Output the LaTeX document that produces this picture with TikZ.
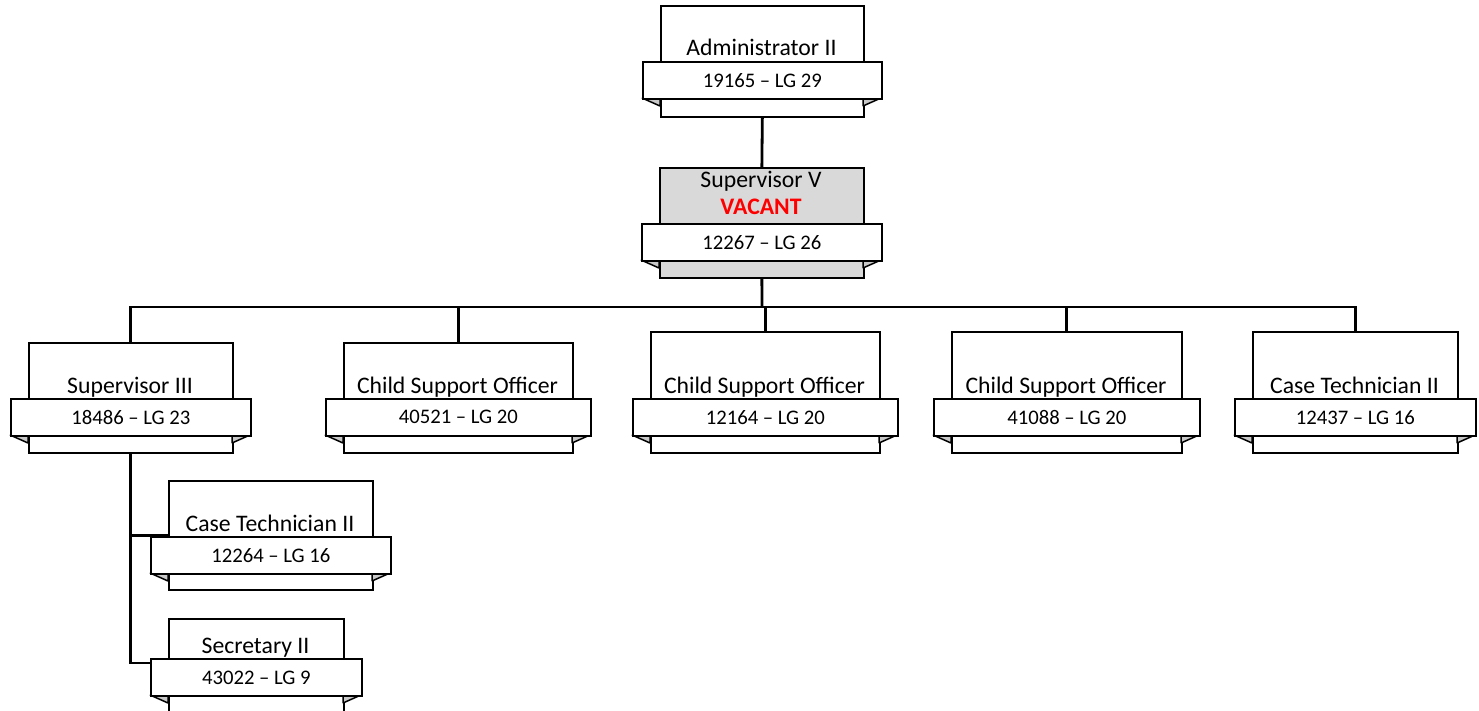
\documentclass[tikz,border=0pt]{standalone}
\usepackage{fontspec}
\setmainfont{Carlito}
\usetikzlibrary{calc}
\pgfdeclarelayer{bg}
\pgfsetlayers{bg,main}
\definecolor{vacantgray}{HTML}{D9D9D9}
\definecolor{foldgray}{HTML}{C8C8C8}
\tikzset{
  mainbox/.style={draw, line width=1.7pt, inner sep=0pt, anchor=north west},
  banner/.style={draw, line width=1.7pt, fill=white, inner sep=0pt, anchor=north west,
    minimum height=37pt, font=\fontsize{20.7}{22}\selectfont},
  fold/.style={draw, line width=1.5pt, fill=foldgray, line join=bevel},
  title/.style={anchor=base, inner sep=0pt, font=\fontsize{23.7}{26}\selectfont},
  link/.style={draw, line width=2.8pt},
}
% #1 name, #2 left, #3 right, #4 top, #5 bottom, #6 banner top, #7 fill, #8 title, #9 number
\newcommand\orgbox[9]{%
  \node[mainbox, fill=#7, minimum width={#3pt-#2pt}, minimum height={#5pt-#4pt}] (#1) at (#2,#4) {};
  \node[title] (#1t) at ({(#2+#3)/2},{#6-5}) {#8};
  \draw[fold] ({#2-18},{#6+37}) -- (#2,{#6+37}) -- (#2,{#6+45}) -- cycle;
  \draw[fold] ({#3+18},{#6+37}) -- (#3,{#6+37}) -- (#3,{#6+45}) -- cycle;
  \node[banner, minimum width={#3pt-#2pt+36pt}] (#1b) at ({#2-18},#6) {#9};
}
\begin{document}
\begin{tikzpicture}[x=1pt,y=-1pt]
\useasboundingbox (0,0) rectangle (1479,711);
\clip (0,0) rectangle (1479,711);

\orgbox{adm}{660}{863}{5}{116}{61}{white}{Administrator II}{19165 – LG 29}
\orgbox{supv}{659}{863}{167}{277}{223}{vacantgray}{\raisebox{3pt}{\textcolor{red}{\bfseries VACANT}}}{12267 – LG 26}
\node[title] (supvt2) at (761,188) {Supervisor V};

\orgbox{sup3}{28}{232}{342}{452}{398}{white}{Supervisor III}{18486 – LG 23}
\orgbox{cso1}{343}{572}{342}{452}{398}{white}{Child Support Officer}{40521 – LG 20}
\orgbox{cso2}{650}{879}{331}{452}{398}{white}{Child Support Officer}{12164 – LG 20}
\orgbox{cso3}{951}{1181}{331}{452}{398}{white}{Child Support Officer}{41088 – LG 20}
\orgbox{ct2}{1252}{1457}{331}{452}{398}{white}{Case Technician II}{12437 – LG 16}

\orgbox{ct2s}{168}{372}{480}{589}{536}{white}{Case Technician II}{12264 – LG 16}
\orgbox{sec}{168}{343}{618}{728}{658}{white}{Secretary II}{43022 – LG 9}

\coordinate (bus) at (762,307);
\coordinate (secjoin) at (0,663);

\begin{pgfonlayer}{bg}
  \draw[link] (adm.south) -- (supv.north);
  \draw[link] (supv.south) -- (bus);
  \draw[link] (sup3.north) |- (bus);
  \draw[link] (cso1.north) |- (bus);
  \draw[link] (cso2.north) |- (bus);
  \draw[link] (cso3.north) |- (bus);
  \draw[link] (ct2.north) |- (bus);
  \draw[link] (sup3.south) |- (ct2s.west);
  \draw[link] (sup3.south) |- (sec.west |- secjoin);
\end{pgfonlayer}
\end{tikzpicture}
\end{document}
